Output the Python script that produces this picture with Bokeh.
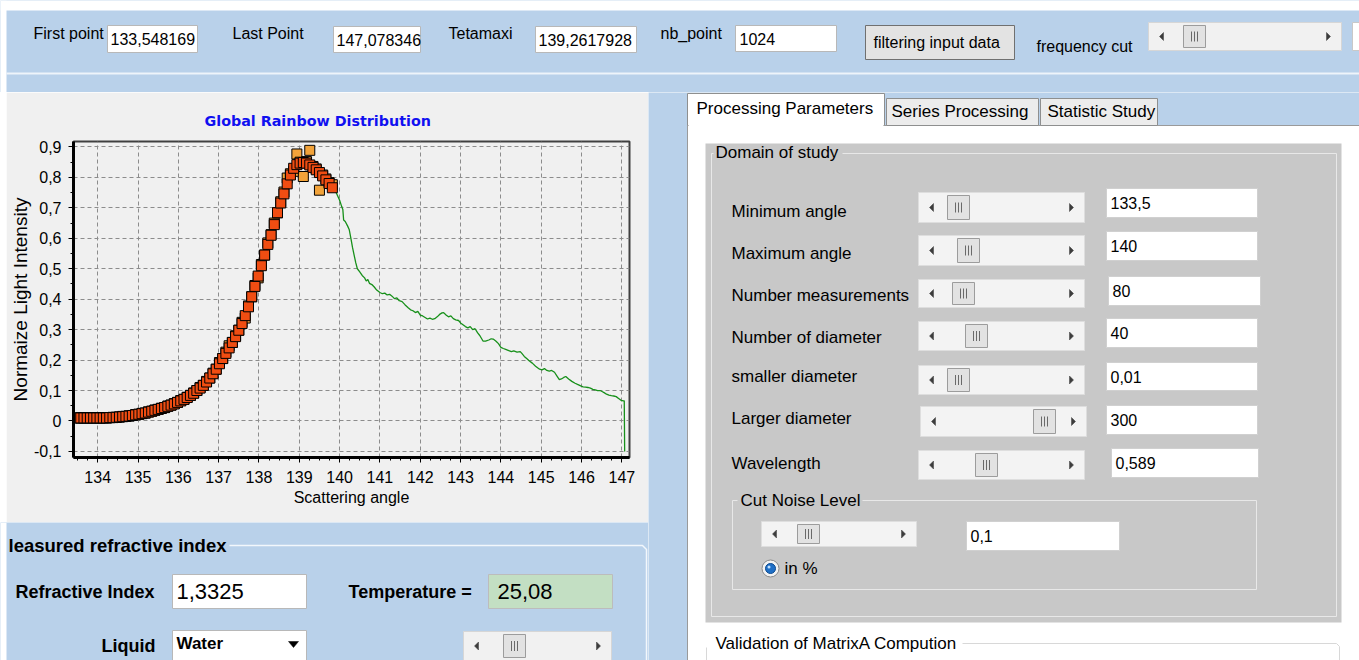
from bokeh.plotting import figure
from bokeh.layouts import column, row
from bokeh.models import Range1d, SingleIntervalTicker, CustomJSTickFormatter
from bokeh.core.properties import value
from bokeh.embed import file_html
from bokeh.resources import INLINE

# ---------------- chart data ----------------
fit_angle = [133.50, 133.58, 133.66, 133.74, 133.82, 133.90, 133.98, 134.06, 134.14, 134.22,
             134.30, 134.38, 134.46, 134.54, 134.62, 134.70, 134.78, 134.86, 134.94, 135.02,
             135.10, 135.18, 135.26, 135.34, 135.42, 135.50, 135.58, 135.66, 135.74, 135.82,
             135.90, 135.98, 136.06, 136.14, 136.22, 136.30, 136.38, 136.46, 136.54, 136.62,
             136.70, 136.78, 136.86, 136.94, 137.02, 137.10, 137.18, 137.26, 137.34, 137.42,
             137.50, 137.58, 137.66, 137.74, 137.82, 137.90, 137.98, 138.06, 138.14, 138.22,
             138.30, 138.38, 138.46, 138.54, 138.62, 138.70, 138.78, 138.86, 138.94, 139.02,
             139.10, 139.18, 139.26, 139.34, 139.42, 139.50, 139.58, 139.66, 139.74, 139.82]

fit_intensity = [0.010, 0.010, 0.010, 0.010, 0.010, 0.010, 0.010, 0.010, 0.010, 0.010,
                 0.011, 0.011, 0.012, 0.013, 0.014, 0.015, 0.016, 0.018, 0.020, 0.022,
                 0.024, 0.026, 0.029, 0.032, 0.035, 0.038, 0.041, 0.044, 0.048, 0.052,
                 0.056, 0.061, 0.066, 0.071, 0.077, 0.084, 0.091, 0.100, 0.108, 0.117,
                 0.128, 0.141, 0.155, 0.170, 0.188, 0.205, 0.222, 0.240, 0.258, 0.277,
                 0.298, 0.320, 0.346, 0.375, 0.408, 0.442, 0.476, 0.510, 0.545, 0.580,
                 0.610, 0.645, 0.684, 0.716, 0.746, 0.779, 0.808, 0.830, 0.842, 0.847,
                 0.849, 0.847, 0.841, 0.833, 0.825, 0.816, 0.805, 0.792, 0.780, 0.766]

measured_intensity = [0.010, 0.010, 0.011, 0.010, 0.010, 0.011, 0.010, 0.010, 0.011, 0.010,
                      0.011, 0.012, 0.012, 0.013, 0.015, 0.015, 0.017, 0.018, 0.021, 0.022,
                      0.025, 0.026, 0.030, 0.032, 0.036, 0.038, 0.042, 0.044, 0.049, 0.052,
                      0.057, 0.061, 0.067, 0.071, 0.078, 0.084, 0.092, 0.100, 0.110, 0.117,
                      0.130, 0.141, 0.157, 0.170, 0.192, 0.205, 0.226, 0.247, 0.258, 0.280,
                      0.298, 0.324, 0.338, 0.378, 0.408, 0.445, 0.470, 0.514, 0.545, 0.585,
                      0.612, 0.650, 0.684, 0.720, 0.752, 0.798, 0.812, 0.820, 0.877, 0.850,
                      0.803, 0.852, 0.889, 0.836, 0.828, 0.758, 0.808, 0.795, 0.783, 0.776]

signal_angle = [133.55, 134.00, 134.50, 135.00, 135.50, 136.00, 136.50, 137.00, 137.50, 138.00,
                138.50, 138.80, 139.00, 139.20, 139.40, 139.60, 139.80, 139.90, 139.95, 140.00,
                140.05, 140.08, 140.10, 140.14, 140.20, 140.24, 140.28, 140.32, 140.36, 140.40,
                140.44, 140.50, 140.56, 140.62, 140.66, 140.70, 140.74, 140.80, 140.86, 140.92,
                141.00, 141.06, 141.12, 141.18, 141.24, 141.30, 141.36, 141.42, 141.48, 141.55,
                141.62, 141.70, 141.76, 141.82, 141.88, 141.94, 142.00, 142.06, 142.12, 142.18,
                142.24, 142.30, 142.36, 142.42, 142.48, 142.54, 142.58, 142.64, 142.70, 142.76,
                142.82, 142.88, 142.95, 143.00, 143.06, 143.12, 143.18, 143.24, 143.30, 143.36,
                143.42, 143.48, 143.56, 143.62, 143.70, 143.76, 143.81, 143.88, 143.94, 144.00,
                144.06, 144.12, 144.18, 144.26, 144.32, 144.40, 144.48, 144.52, 144.58, 144.64,
                144.70, 144.78, 144.86, 144.96, 145.02, 145.08, 145.14, 145.20, 145.26, 145.33,
                145.40, 145.45, 145.50, 145.56, 145.61, 145.68, 145.76, 145.84, 145.90, 145.98,
                146.04, 146.10, 146.16, 146.22, 146.28, 146.34, 146.40, 146.46, 146.52, 146.56,
                146.62, 146.68, 146.74, 146.80, 146.86, 146.92, 146.98, 147.04, 147.06, 147.07]

signal_intensity = [0.008, 0.008, 0.012, 0.020, 0.037, 0.060, 0.100, 0.185, 0.298, 0.480,
                    0.700, 0.810, 0.845, 0.850, 0.830, 0.800, 0.770, 0.755, 0.740, 0.725,
                    0.705, 0.695, 0.660, 0.655, 0.640, 0.628, 0.600, 0.570, 0.545, 0.520,
                    0.500, 0.490, 0.478, 0.470, 0.460, 0.465, 0.452, 0.448, 0.440, 0.430,
                    0.422, 0.418, 0.420, 0.414, 0.416, 0.410, 0.402, 0.404, 0.395, 0.392,
                    0.382, 0.372, 0.365, 0.362, 0.356, 0.360, 0.348, 0.345, 0.340, 0.335,
                    0.338, 0.334, 0.336, 0.342, 0.350, 0.355, 0.356, 0.348, 0.342, 0.345,
                    0.336, 0.332, 0.330, 0.322, 0.316, 0.310, 0.306, 0.310, 0.300, 0.303,
                    0.290, 0.280, 0.262, 0.262, 0.266, 0.270, 0.269, 0.262, 0.254, 0.242,
                    0.238, 0.235, 0.232, 0.228, 0.230, 0.226, 0.228, 0.222, 0.212, 0.205,
                    0.198, 0.190, 0.180, 0.170, 0.168, 0.172, 0.166, 0.164, 0.166, 0.160,
                    0.146, 0.136, 0.138, 0.143, 0.146, 0.138, 0.130, 0.124, 0.120, 0.115,
                    0.112, 0.111, 0.110, 0.108, 0.104, 0.102, 0.100, 0.100, 0.096, 0.093,
                    0.088, 0.085, 0.083, 0.082, 0.080, 0.074, 0.068, 0.066, 0.066, -0.100]

chart_title = "Global Rainbow Distribution"
x_label = "Scattering angle"
y_label = "Normaize Light Intensity"

SANS = "Liberation Sans"
BLUE_BG = "#b9d1ea"


# ---------------- GUI helpers (page-pixel coordinates) ----------------
def gui_fig(x0, x1, y0, y1, bg):
    f = figure(width=x1 - x0, height=y1 - y0, x_range=Range1d(x0, x1), y_range=Range1d(y1, y0),
               output_backend="svg", toolbar_location=None, x_axis_type=None, y_axis_type=None,
               min_border=0)
    f.outline_line_color = None
    f.background_fill_color = bg
    f.border_fill_color = bg
    return f


def rect(f, x0, y0, x1, y1, fill, line=None, lw=1):
    f.quad(left=[x0], right=[x1], top=[y0], bottom=[y1], fill_color=fill, line_color=line, line_width=lw)


def label(f, x, y, s, size=16, bold=False, color="#000000", font=SANS, align="left"):
    f.text(x=[x], y=[y], text=[s], text_font=value(font), text_font_size=value(f"{size}px"),
           text_font_style="bold" if bold else "normal", text_color=color,
           text_align=align, text_baseline="middle")


def tri(f, pts, color="#3c3c3c"):
    f.patch(x=[p[0] for p in pts], y=[p[1] for p in pts], fill_color=color, line_color=color, line_width=0.5)


def scrollbar(f, x0, y0, x1, y1, tx, track="#f1f1f1", border="#d6d6d6"):
    rect(f, x0, y0, x1, y1, track, border)
    ym = (y0 + y1) / 2
    lx = x0 + 13
    rx = x1 - 13
    tri(f, [(lx + 2, ym - 4), (lx - 2, ym), (lx + 2, ym + 4)])
    tri(f, [(rx - 2, ym - 4), (rx + 2, ym), (rx - 2, ym + 4)])
    rect(f, tx, y0 + 3, tx + 22, y1 - 3, "#e2e2e2", "#9c9c9c")
    cx = tx + 11
    f.segment(x0=[cx - 3, cx, cx + 3], y0=[ym - 5] * 3, x1=[cx - 3, cx, cx + 3], y1=[ym + 5] * 3,
              line_color="#6a6a6a", line_width=1)


def textbox(f, x0, y0, x1, y1, s, size=16, fill="#ffffff", border="#b8b8b8", pad=4):
    rect(f, x0, y0, x1, y1, fill, border)
    label(f, x0 + pad, (y0 + y1) / 2, s, size)


# ---------------- top bar ----------------
top = gui_fig(0, 1359, 0, 92, BLUE_BG)
rect(top, 0, 0, 1359, 10, "#ffffff")
rect(top, 0, 0, 6, 92, "#ffffff")
rect(top, 6, 72, 1359, 74, "#eef4fa")
label(top, 33, 33, "First point")
textbox(top, 107, 25, 197, 52, "133,548169", pad=3)
label(top, 232, 33, "Last Point")
textbox(top, 333, 26, 420, 52, "147,078346", pad=3)
label(top, 448, 33, "Tetamaxi")
textbox(top, 535, 26, 636, 52, "139,2617928", pad=3)
label(top, 660, 33, "nb_point")
textbox(top, 735, 25, 836, 51, "1024")
rect(top, 865, 25, 1014, 59, "#e3e3e3", "#707070")
label(top, 873, 42, "filtering input data")
label(top, 1036, 46, "frequency cut")
scrollbar(top, 1148, 22, 1341, 50, 1183)
rect(top, 1352, 22, 1362, 50, "#ffffff", "#c8c8c8")

# ---------------- chart ----------------
chart = figure(width=642, height=430, x_range=Range1d(133.40, 147.19), y_range=Range1d(-0.12, 0.918),
               output_backend="svg", toolbar_location=None,
               min_border_left=63, min_border_right=19, min_border_top=49, min_border_bottom=65)
chart.background_fill_color = "#f0f0f0"
chart.border_fill_color = "#f0f0f0"
chart.outline_line_color = "#404040"
chart.outline_line_width = 2

chart.title.text = chart_title
chart.title.text_font = "DejaVu Sans"
chart.title.text_font_size = "14.3px"
chart.title.text_font_style = "bold"
chart.title.text_color = "#1010f0"
chart.title.align = "left"
chart.title.offset = 131
try:
    chart.title.standoff = 26
except AttributeError:
    pass

xt = SingleIntervalTicker(interval=1, num_minor_ticks=4)
yt = SingleIntervalTicker(interval=0.1, num_minor_ticks=2)
xa = chart.xaxis[0]
ya = chart.yaxis[0]
xa.ticker = xt
ya.ticker = yt
ya.formatter = CustomJSTickFormatter(code="var v = Math.round(tick*10)/10; return v.toString().replace('.', ',');")
xa.axis_label = x_label
ya.axis_label = y_label
for ax in (xa, ya):
    ax.axis_line_width = 3
    ax.axis_line_color = "#000000"
    ax.major_tick_out = 5
    ax.major_tick_in = 0
    ax.minor_tick_out = 3
    ax.minor_tick_in = 0
    ax.major_tick_line_color = "#000000"
    ax.minor_tick_line_color = "#000000"
    ax.major_label_text_font = SANS
    ax.major_label_text_font_size = "16px"
    ax.major_label_text_color = "#000000"
    ax.axis_label_text_font = SANS
    ax.axis_label_text_font_style = "normal"
    ax.axis_label_text_color = "#000000"
xa.axis_label_text_font_size = "16px"
ya.axis_label_text_font_size = "19px"
xa.major_label_standoff = 8
xa.axis_label_standoff = 3
ya.major_label_standoff = 7
ya.axis_label_standoff = 0

chart.xgrid.ticker = xt
chart.ygrid.ticker = yt
for g in (chart.xgrid[0], chart.ygrid[0]):
    g.grid_line_color = "#8c8c8c"
    g.grid_line_dash = "4 3"
    g.grid_line_width = 1

chart.line(signal_angle, signal_intensity, line_color="#17901a", line_width=1.3)
chart.scatter(fit_angle, measured_intensity, marker="square", size=10,
              fill_color="#f2a33a", line_color="#000000", line_width=1)
chart.scatter(fit_angle, fit_intensity, marker="square", size=10,
              fill_color="#f04d12", line_color="#000000", line_width=1)

strip = gui_fig(0, 6, 92, 522, "#ffffff")

# ---------------- bottom-left panel ----------------
bl = gui_fig(0, 648, 522, 660, BLUE_BG)
rect(bl, 0, 522, 6, 660, "#ffffff")
label(bl, 8, 545, "leasured refractive index", 18.5, True)
bl.line([229, 642, 646, 646], [545, 545, 549, 660], line_color="#f2f7fc", line_width=1.5)
label(bl, 15, 591, "Refractive Index", 18, True)
textbox(bl, 172, 574, 306, 608, "1,3325", 22)
label(bl, 348, 591, "Temperature =", 18, True)
textbox(bl, 488, 574, 612, 608, "25,08", 22, fill="#c3dfc3", border="#bcbcbc", pad=9)
label(bl, 101, 645, "Liquid", 18, True)
rect(bl, 172, 630, 306, 662, "#ffffff", "#b8b8b8")
label(bl, 176, 643, "Water", 17, True)
tri(bl, [(288, 641), (298, 641), (293, 647)], "#000000")
scrollbar(bl, 463, 631, 611, 660, 503)

# ---------------- right panel (tabs) ----------------
rt = gui_fig(648, 1359, 92, 660, BLUE_BG)
rect(rt, 687, 125, 1359, 662, "#ffffff")
rt.line([687, 687], [125, 660], line_color="#9a9a9a", line_width=1)
rt.line([687, 1359], [125, 125], line_color="#9a9a9a", line_width=1)
rect(rt, 886, 98, 1038, 125, "#ececec", "#8e8f8f")
label(rt, 891, 111, "Series Processing", 17)
rect(rt, 1040, 98, 1157, 125, "#ececec", "#8e8f8f")
label(rt, 1047, 111, "Statistic Study", 17)
rect(rt, 687, 93, 884, 125, "#ffffff", "#8e8f8f")
rect(rt, 688, 123, 883, 127, "#ffffff")
label(rt, 696, 108, "Processing Parameters", 17)

rect(rt, 705, 143, 1341, 622, "#c8c8c8")
rt.line([842, 1336, 1336, 711, 711, 713], [153, 153, 616, 616, 153, 153], line_color="#e8e8e8", line_width=1)
label(rt, 715, 152, "Domain of study", 17)

rows = [
    ("Minimum angle", 211, (918, 192, 1084, 222, 947), (1106, 188, 1257, 217), "133,5"),
    ("Maximum angle", 253, (918, 235, 1084, 265, 957), (1106, 231, 1257, 260), "140"),
    ("Number measurements", 295, (918, 279, 1084, 307, 952), (1108, 276, 1260, 305), "80"),
    ("Number of diameter", 337, (918, 321, 1084, 350, 965), (1106, 318, 1257, 347), "40"),
    ("smaller diameter", 376, (918, 365, 1084, 394, 947), (1106, 362, 1257, 390), "0,01"),
    ("Larger diameter", 418, (920, 406, 1086, 436, 1033), (1106, 405, 1257, 434), "300"),
    ("Wavelength", 463, (918, 450, 1084, 479, 975), (1111, 448, 1258, 477), "0,589"),
]
for name, ly, sb, tb, val in rows:
    label(rt, 731, ly, name, 17)
    scrollbar(rt, sb[0], sb[1], sb[2], sb[3], sb[4], track="#f3f3f3", border="#dedede")
    textbox(rt, tb[0], tb[1], tb[2], tb[3], val, 16, border="#d0d0d0")

rt.line([862, 1256, 1256, 732, 732, 737], [500, 500, 589, 589, 500, 500], line_color="#e8e8e8", line_width=1)
label(rt, 740, 500, "Cut Noise Level", 17)
scrollbar(rt, 761, 521, 916, 546, 797, track="#f3f3f3", border="#dedede")
textbox(rt, 966, 521, 1119, 550, "0,1", 16, border="#d0d0d0")
rt.scatter(x=[770], y=[568], marker="circle", size=17, fill_color="#f2f2f2", line_color="#8a8a8a")
rt.scatter(x=[770], y=[568], marker="circle", size=10, fill_color="#1f6fc6", line_color="#0c4a8f")
rt.scatter(x=[768.5], y=[566.5], marker="circle", size=3, fill_color="#bfe0ff", line_color=None)
label(rt, 784, 568, "in %", 17)

rt.line([962, 1336, 1339, 1339], [643, 643, 646, 660], line_color="#d8d8d8", line_width=1)
rt.line([706, 706], [647, 660], line_color="#d8d8d8", line_width=1)
label(rt, 715, 643, "Validation of MatrixA Compution", 17)

left_col = column(row(strip, chart), bl)
layout = column(top, row(left_col, rt))

with open("out.html", "w") as fh:
    fh.write(file_html(layout, INLINE, "Global Rainbow Distribution"))
